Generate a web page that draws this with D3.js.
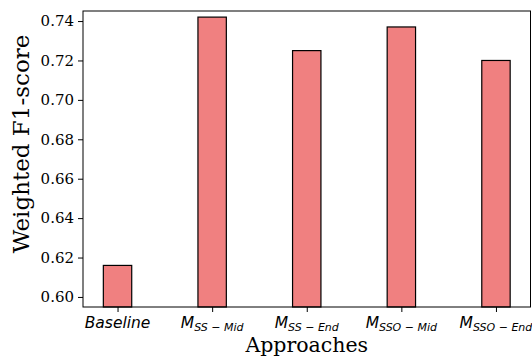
<!DOCTYPE html>
<html>
<head>
<meta charset="utf-8">
<script src="https://cdn.jsdelivr.net/npm/d3@7"></script>
<style>
  body { margin: 0; background: #fff; }
  .serif { font-family: 'DejaVu Serif', serif; }
  .mtext { font-family: 'DejaVu Sans', sans-serif; font-style: italic; }
</style>
</head>
<body>
<div id="chart"></div>
<script>
// categories: [main letter, subscript]
let categories = [['Baseline', ''], ['M', 'SS − Mid'], ['M', 'SS − End'], ['M', 'SSO − Mid'], ['M', 'SSO − End']];
let scores = [0.616, 0.742, 0.725, 0.737, 0.720];
let yTicks = [0.60, 0.62, 0.64, 0.66, 0.68, 0.70, 0.72, 0.74];

let margin = { top: 11, right: 1.5, bottom: 51, left: 83 };
let width = 532 - margin.left - margin.right;
let height = 358 - margin.top - margin.bottom;

let svg = d3.select('#chart')
  .append('svg')
  .attr('width', 532)
  .attr('height', 358);

let g = svg.append('g')
  .attr('transform', 'translate(' + margin.left + ', ' + margin.top + ')');

// matplotlib style: bar width 0.3, 5% margins
let x = d3.scaleLinear()
  .domain([-0.365, scores.length - 1 + 0.365])
  .range([0, width]);

let y = d3.scaleLinear()
  .domain([0.5949, 0.7451])
  .range([height, 0]);

let barW = x(0.3) - x(0);

g.selectAll('rect.bar')
  .data(scores)
  .enter()
  .append('rect')
  .attr('class', 'bar')
  .attr('x', (d, i) => x(i) - barW / 2)
  .attr('y', d => y(d))
  .attr('width', barW)
  .attr('height', d => height - y(d))
  .attr('fill', '#f08080')
  .attr('stroke', '#000')
  .attr('stroke-width', 1.2);

// Y axis
let yAxis = g.append('g')
  .call(d3.axisLeft(y).tickValues(yTicks).tickFormat(d3.format('.2f')).tickSize(5).tickPadding(4));
yAxis.select('.domain').remove();
yAxis.selectAll('text')
  .attr('class', 'serif')
  .attr('font-size', '15px')
  .attr('fill', '#000');

// X axis
let xAxis = g.append('g')
  .attr('transform', 'translate(0, ' + height + ')')
  .call(d3.axisBottom(x).tickValues(d3.range(scores.length)).tickFormat('').tickSize(5));
xAxis.select('.domain').remove();

let labels = g.append('g')
  .selectAll('text')
  .data(categories)
  .enter()
  .append('text')
  .attr('class', 'mtext')
  .attr('x', (d, i) => x(i))
  .attr('y', height + 21)
  .attr('text-anchor', 'middle')
  .attr('font-size', '15.5px')
  .attr('fill', '#000');

labels.append('tspan').text(d => d[0]);
labels.filter(d => d[1] !== '')
  .append('tspan')
  .attr('dy', 3)
  .attr('font-size', '11px')
  .text(d => d[1]);

// frame
g.append('rect')
  .attr('width', width)
  .attr('height', height)
  .attr('fill', 'none')
  .attr('stroke', '#000')
  .attr('stroke-width', 1);

// axis labels
svg.append('text')
  .attr('class', 'serif')
  .attr('x', margin.left + width / 2)
  .attr('y', 352)
  .attr('text-anchor', 'middle')
  .attr('font-size', '20.5px')
  .text('Approaches');

svg.append('text')
  .attr('class', 'serif')
  .attr('transform', 'translate(29, 144) rotate(-90)')
  .attr('text-anchor', 'middle')
  .attr('font-size', '23px')
  .text('Weighted F1-score');
</script>
</body>
</html>
